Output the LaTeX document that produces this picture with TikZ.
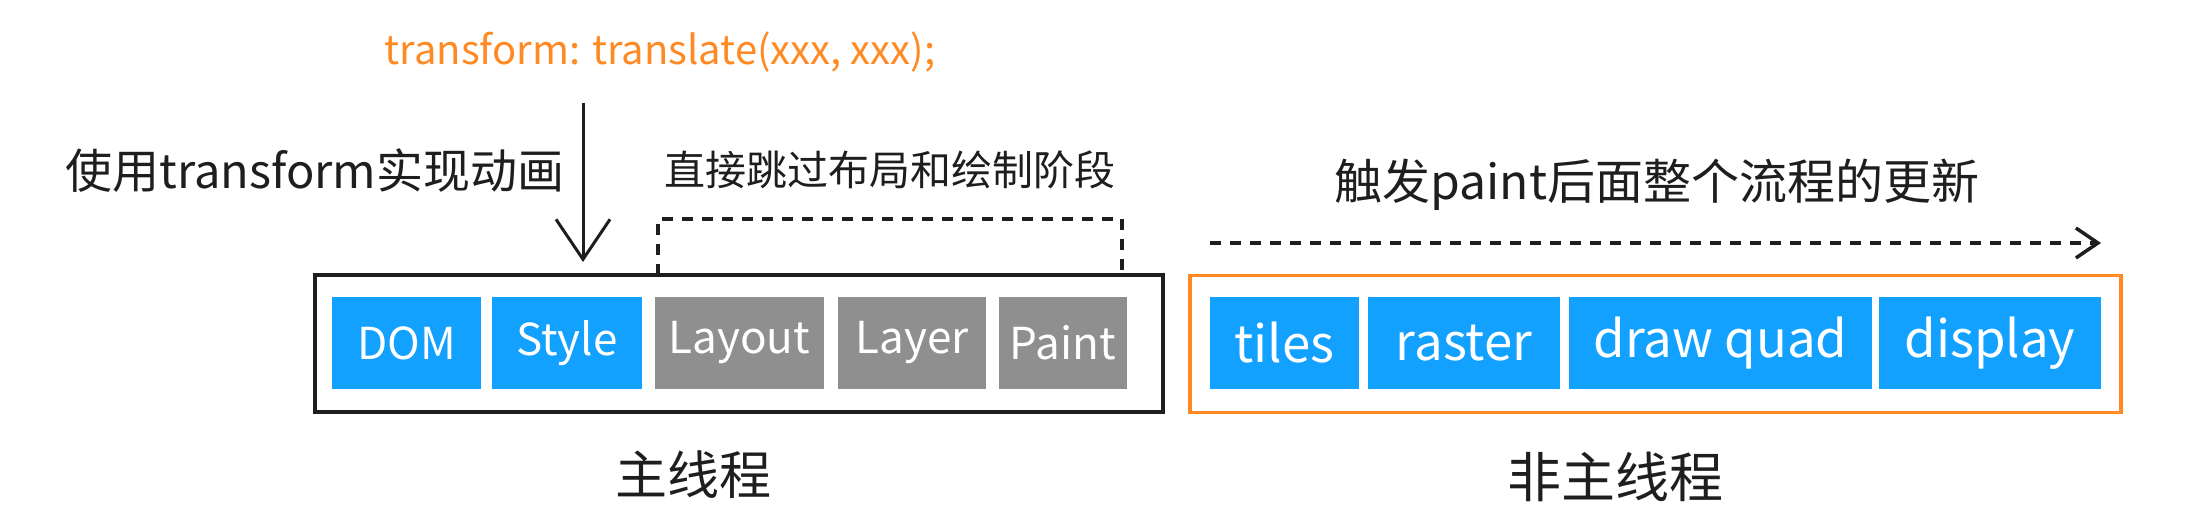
\documentclass[tikz,border=0pt]{standalone}
\usepackage{fontspec}
\setmainfont{Noto Sans CJK SC}
\usetikzlibrary{arrows.meta}
\definecolor{stepblue}{HTML}{12A1FF}
\definecolor{stepgray}{HTML}{8F8F8F}
\definecolor{codeorange}{HTML}{FF8A24}
\definecolor{inkblack}{HTML}{1E1E1E}

\begin{document}
\begin{tikzpicture}[x=1pt, y=-1pt,
    stage/.style={fill=#1, text=white, inner sep=0pt, minimum height=92pt,
        font=\fontsize{44}{50}\selectfont},
    frame/.style={draw=#1, line width=3.5pt, inner sep=0pt, minimum height=137pt},
    note/.style={inner sep=0pt, text=inkblack, font=\fontsize{41}{48}\selectfont},
    sketch/.style={draw=inkblack, line width=3.5pt, dash pattern=on 11pt off 9pt}]
    \useasboundingbox (0,0) rectangle (2200,518);

    % main thread box
    \node[frame=inkblack, minimum width=848pt] (mainbox) at (739,343.5) {};
    \node[stage=stepblue, minimum width=149pt] (dom) at (406.5,343) {DOM};
    \node[stage=stepblue, minimum width=150pt] (style) at (567,343) {Style};
    \node[stage=stepgray, minimum width=169pt] (layout) at (739.5,343) {Layout};
    \node[stage=stepgray, minimum width=148pt] (layer) at (912,343) {Layer};
    \node[stage=stepgray, minimum width=128pt] (paint) at (1063,343) {Paint};

    % compositor thread box
    \node[frame=codeorange, minimum width=931pt] (compbox) at (1655.5,344) {};
    \node[stage=stepblue, minimum width=149pt, font=\fontsize{51}{56}\selectfont] (tiles) at (1284.5,343) {tiles};
    \node[stage=stepblue, minimum width=192pt, font=\fontsize{51}{56}\selectfont] (raster) at (1464,343) {raster};
    \node[stage=stepblue, minimum width=303pt, font=\fontsize{51}{56}\selectfont] (drawquad) at (1720.5,343) {draw quad};
    \node[stage=stepblue, minimum width=222pt, font=\fontsize{51}{56}\selectfont] (display) at (1990,343) {display};

    % labels
    \node[note, text=codeorange, font=\fontsize{40}{46}\selectfont] (code) at (660,52) {transform: translate(xxx, xxx);};
    \node[note, font=\fontsize{47}{54}\selectfont] (usetrans) at (315,171) {使用transform实现动画};
    \node[note] (skiptext) at (890,170) {直接跳过布局和绘制阶段};
    \node[note, font=\fontsize{48}{54}\selectfont] (trigger) at (1657,185) {触发paint后面整个流程的更新};
    \node[note, font=\fontsize{52}{58}\selectfont] (mainlabel) at (693,475) {主线程};
    \node[note, font=\fontsize{54}{60}\selectfont] (complabel) at (1615,477) {非主线程};

    % transform arrow
    \coordinate (tstart) at (583,103);
    \coordinate (tend) at (583,262);
    \draw[inkblack, line width=3pt, -{Straight Barb[length=40pt, width=54pt]}] (tstart) -- (tend);

    % skipped stages
    \coordinate (skipl) at (658,275);
    \coordinate (skipr) at (1122,275);
    \draw[sketch] (skipl) -- ++(0,-56) -| (skipr);

    % update flow
    \coordinate (flowstart) at (1210,243);
    \coordinate (flowend) at (2101,243);
    \draw[sketch, -{Straight Barb[length=22pt, width=30pt]}] (flowstart) -- (flowend);
\end{tikzpicture}
\end{document}
